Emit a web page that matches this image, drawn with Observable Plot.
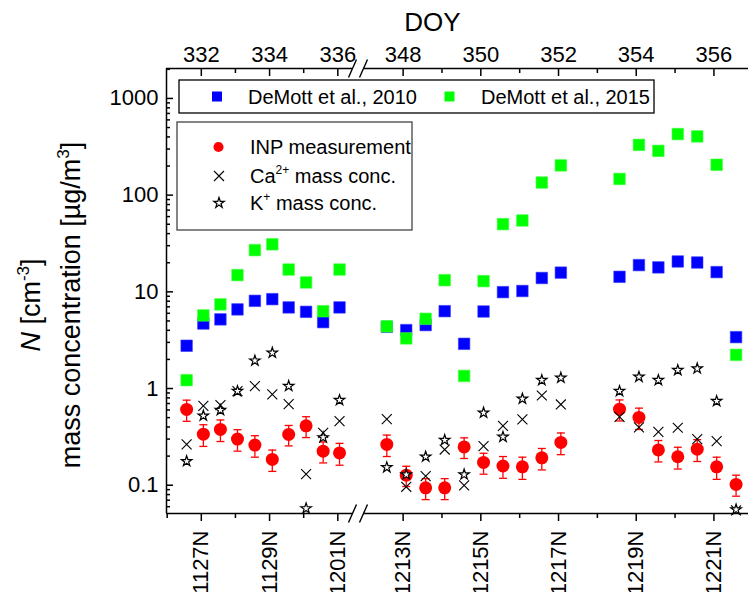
<!DOCTYPE html>
<html><head><meta charset="utf-8">
<script src="https://cdn.jsdelivr.net/npm/d3@7"></script>
<script src="https://cdn.jsdelivr.net/npm/@observablehq/plot@0.6"></script>
<style>
body{margin:0;background:#fff;}
#wrap{position:relative;width:748px;height:592px;}
</style></head><body><div id="wrap"></div>
<script>
// ---- data ----
const doy = [331.57, 332.06, 332.56, 333.06, 333.57, 334.08, 334.56, 335.07, 335.57, 336.05,
  347.58, 348.08, 348.58, 349.07, 349.57, 350.07, 350.57, 351.07, 351.57, 352.06,
  353.57, 354.07, 354.57, 355.07, 355.57, 356.07, 356.57];
const demott2010 = [2.77, 4.7, 5.19, 6.58, 8.07, 8.4, 6.9, 6.21, 4.86, 6.9,
  4.35, 4.02, 4.53, 6.31, 2.9, 6.26, 9.93, 10.2, 13.9, 15.8,
  14.3, 18.9, 17.9, 20.6, 20.1, 16.0, 3.4];
const demott2015 = [1.22, 5.7, 7.41, 14.9, 27, 31, 17, 12.5, 6.3, 17,
  4.4, 3.3, 5.26, 13.2, 1.35, 12.9, 50.1, 54.7, 135, 203,
  147, 331, 287, 428, 405, 206, 2.23];
const inp = [0.608, 0.337, 0.378, 0.30, 0.26, 0.185, 0.335, 0.411, 0.225, 0.216,
  0.264, 0.127, 0.094, 0.094, 0.249, 0.172, 0.158, 0.155, 0.192, 0.277,
  0.612, 0.502, 0.232, 0.197, 0.236, 0.155, 0.102];
const inpErr = [0.15, 0.085, 0.095, 0.075, 0.065, 0.046, 0.08, 0.1, 0.055, 0.055,
  0.066, 0.03, 0.023, 0.023, 0.06, 0.042, 0.04, 0.04, 0.048, 0.07,
  0.15, 0.125, 0.058, 0.05, 0.06, 0.04, 0.025];
const caMass = [0.264, 0.662, 0.673, 0.94, 1.06, 0.869, 0.69, 0.13, 0.348, 0.46,
  0.483, 0.0964, 0.124, 0.234, 0.0996, 0.254, 0.411, 0.479, 0.847, 0.684,
  0.51, 0.396, 0.356, 0.393, 0.30, 0.286, 0.055];
const kMass = [0.177, 0.523, 0.598, 0.94, 1.94, 2.34, 1.06, 0.0575, 0.312, 0.759,
  0.153, 0.129, 0.197, 0.293, 0.129, 0.561, 0.316, 0.783, 1.22, 1.29,
  0.94, 1.32, 1.22, 1.55, 1.61, 0.741, 0.056];

const xMajor = [332, 334, 336, 348, 350, 352, 354, 356];
const sampleLabels = ["1127N", "1129N", "1201N", "1213N", "1215N", "1217N", "1219N", "1221N"];
const xMinorTop = [333, 335, 349, 351, 353, 355];
const xMinorBottom = [331, 333, 335, 349, 351, 353, 355];
const yMajor = [0.1, 1, 10, 100, 1000];
const yMinor = [0.06, 0.07, 0.08, 0.09, 0.2, 0.3, 0.4, 0.5, 0.6, 0.7, 0.8, 0.9,
  2, 3, 4, 5, 6, 7, 8, 9, 20, 30, 40, 50, 60, 70, 80, 90,
  200, 300, 400, 500, 600, 700, 800, 900, 2000];

// broken axis: two DOY segments
const segStart = [330.98, 346.98];
const segEnd = [336.43, 356.89];
const yDomain = [0.051, 2040];

const FONT = "Liberation Sans, Arial, sans-serif";
const data = doy.map((d, i) => ({doy: d, b: demott2010[i], g: demott2015[i], inp: inp[i],
  err: inpErr[i], ca: caMass[i], k: kMass[i]}));
const segs = segStart.map((s, i) => ({x1: s, x2: segEnd[i]}));
const breaks = [segEnd[0], segStart[1]];
const labelOf = new Map(xMajor.map((d, i) => [d, sampleLabels[i]]));

const capSymbol = {draw(ctx) { ctx.moveTo(-4, 0); ctx.lineTo(4, 0); }};
const slashSymbol = {draw(ctx) { ctx.moveTo(-4, 9); ctx.lineTo(4, -9); }};

const plot = Plot.plot({
  width: 748, height: 592,
  marginLeft: 166, marginRight: 0, marginTop: 68, marginBottom: 79,
  style: {fontFamily: FONT, fontSize: "22px", color: "black", background: "white", overflow: "visible"},
  x: {type: "linear", domain: [segStart[0], segEnd[0], segStart[1], segEnd[1]], range: [166, 352, 363, 748]},
  y: {type: "log", domain: yDomain},
  marks: [
    // axis lines
    Plot.ruleX([segStart[0]], {stroke: "black", strokeWidth: 1.5}),
    Plot.ruleY(segs, {y: () => yDomain[0], x1: "x1", x2: "x2", stroke: "black", strokeWidth: 1.5}),
    Plot.ruleY(segs, {y: () => yDomain[1], x1: "x1", x2: "x2", stroke: "black", strokeWidth: 1.5}),
    Plot.dot(breaks, {x: d => d, y: () => yDomain[0], symbol: slashSymbol, stroke: "black", strokeWidth: 1.4}),
    Plot.dot(breaks, {x: d => d, y: () => yDomain[1], symbol: slashSymbol, stroke: "black", strokeWidth: 1.4}),
    // bottom axis
    Plot.axisX({anchor: "bottom", ticks: xMajor, tickSize: 8, fill: "none", strokeWidth: 1.5, label: null}),
    Plot.axisX({anchor: "bottom", ticks: xMinorBottom, tickSize: 5, fill: "none", strokeWidth: 1.5, label: null}),
    Plot.axisX({anchor: "bottom", ticks: xMajor, tickSize: 0, tickPadding: 17, tickRotate: -90,
      tickFormat: d => labelOf.get(d), fontSize: 22, label: null}),
    // top axis (ticks inward)
    Plot.axisX({anchor: "top", ticks: xMajor, tickSize: 7, dy: 7, fill: "none", strokeWidth: 1.5, label: null}),
    Plot.axisX({anchor: "top", ticks: xMinorTop, tickSize: 4, dy: 4, fill: "none", strokeWidth: 1.5, label: null}),
    Plot.axisX({anchor: "top", ticks: xMajor, tickSize: 0, tickPadding: 7, tickFormat: d => String(d), fontSize: 22, label: null}),
    Plot.text(["DOY"], {frameAnchor: "top", lineAnchor: "middle", dx: -25, dy: -46, fontSize: 26}),
    // left axis (ticks inward)
    Plot.axisY({anchor: "left", ticks: yMajor, tickSize: 7, dx: 7, fill: "none", strokeWidth: 1.5, label: null}),
    Plot.axisY({anchor: "left", ticks: yMinor, tickSize: 4, dx: 4, fill: "none", strokeWidth: 1.5, label: null}),
    Plot.axisY({anchor: "left", ticks: yMajor, tickSize: 0, tickPadding: 8, tickFormat: d => String(d), fontSize: 22, label: null}),
    // data
    Plot.dot(data, {x: "doy", y: "b", symbol: "square", r: 6.5, fill: "#0000ff", stroke: "#3a3aff", strokeWidth: 0.6}),
    Plot.dot(data, {x: "doy", y: "g", symbol: "square", r: 6.5, fill: "#00ff00", stroke: "#3aff3a", strokeWidth: 0.6}),
    Plot.ruleX(data, {x: "doy", y1: d => d.inp - d.err, y2: d => d.inp + d.err, stroke: "#ff0000", strokeWidth: 1.3}),
    Plot.dot(data, {x: "doy", y: d => d.inp - d.err, symbol: capSymbol, stroke: "#ff0000", strokeWidth: 1.3}),
    Plot.dot(data, {x: "doy", y: d => d.inp + d.err, symbol: capSymbol, stroke: "#ff0000", strokeWidth: 1.3}),
    Plot.dot(data, {x: "doy", y: "inp", symbol: "circle", r: 6.5, fill: "#ff0000"}),
    Plot.dot(data, {x: "doy", y: "ca", symbol: "times", r: 4.6, stroke: "black", strokeWidth: 1.1}),
    Plot.dot(data, {x: "doy", y: "k", symbol: "star", r: 3.3, fill: "white", stroke: "black", strokeWidth: 1.2})
  ]
});
document.getElementById("wrap").appendChild(plot);

const svg = d3.select(plot);
// y-axis title
const T = svg.append("g").attr("font-family", FONT).attr("font-size", 27).attr("text-anchor", "middle").attr("fill", "black");
const t1 = T.append("text").attr("transform", "translate(40,305) rotate(-90)");
t1.append("tspan").attr("font-style", "italic").text("N");
t1.append("tspan").text(" [cm");
t1.append("tspan").attr("font-size", 17).attr("dy", -11).text("-3");
t1.append("tspan").attr("dy", 11).text("]");
const t2 = T.append("text").attr("transform", "translate(80,305) rotate(-90)");
t2.append("tspan").text("mass concentration [µg/m");
t2.append("tspan").attr("font-size", 17).attr("dy", -11).text("3");
t2.append("tspan").attr("dy", 11).text("]");

// legends
const L = svg.append("g").attr("font-family", FONT).attr("font-size", 20).attr("fill", "black").attr("text-anchor", "start");
L.append("rect").attr("x", 179).attr("y", 80).attr("width", 475).attr("height", 33)
  .attr("fill", "white").attr("stroke", "black").attr("stroke-width", 1.3);
L.append("path").attr("d", d3.symbol(d3.symbolSquare, 100)()).attr("transform", "translate(217,96.5)").attr("fill", "#0000ff");
L.append("text").attr("x", 248).attr("y", 96.5).attr("dy", "0.35em").text("DeMott et al., 2010");
L.append("path").attr("d", d3.symbol(d3.symbolSquare, 100)()).attr("transform", "translate(449.5,96.5)").attr("fill", "#00ff00");
L.append("text").attr("x", 481).attr("y", 96.5).attr("dy", "0.35em").text("DeMott et al., 2015");

L.append("rect").attr("x", 177).attr("y", 122).attr("width", 235).attr("height", 108)
  .attr("fill", "white").attr("stroke", "#444").attr("stroke-width", 1.3);
L.append("path").attr("d", d3.symbol(d3.symbolCircle, 80)()).attr("transform", "translate(218.5,147)").attr("fill", "#ff0000");
L.append("text").attr("x", 250).attr("y", 147).attr("dy", "0.35em").text("INP measurement");
L.append("path").attr("d", d3.symbol(d3.symbolTimes, 67)()).attr("transform", "translate(219,176)").attr("fill", "none").attr("stroke", "black").attr("stroke-width", 1.1);
const c2 = L.append("text").attr("x", 250).attr("y", 176).attr("dy", "0.35em");
c2.append("tspan").text("Ca");
c2.append("tspan").attr("font-size", 12).attr("dy", -9).text("2+");
c2.append("tspan").attr("dy", 9).text(" mass conc.");
L.append("path").attr("d", d3.symbol(d3.symbolStar, 34)()).attr("transform", "translate(219,203)").attr("fill", "white").attr("stroke", "black").attr("stroke-width", 1.2);
const k2 = L.append("text").attr("x", 250).attr("y", 203).attr("dy", "0.35em");
k2.append("tspan").text("K");
k2.append("tspan").attr("font-size", 12).attr("dy", -9).text("+");
k2.append("tspan").attr("dy", 9).text(" mass conc.");
</script></body></html>
